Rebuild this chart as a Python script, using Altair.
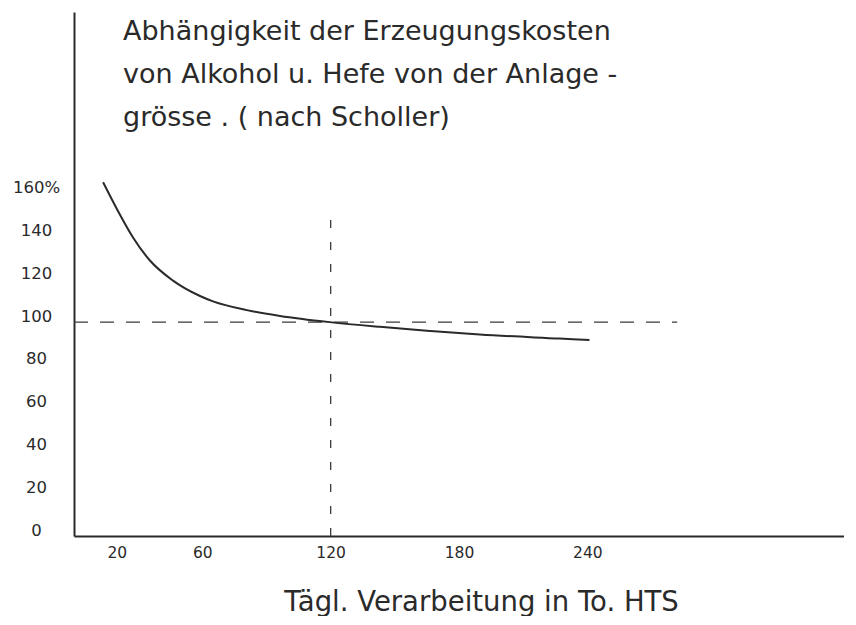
import altair as alt
import pandas as pd

# Curve: daily throughput (t HTS) vs. relative production cost (%)
size = [13.6, 20.1, 27.6, 35.5, 46.3, 58.9, 65.0, 80.8, 96.3, 119.6, 143.0, 166.4, 189.7, 227.0, 241.0]
cost = [165.4, 152.8, 139.6, 128.8, 119.4, 112.2, 109.7, 105.6, 102.9, 100.0, 97.8, 95.9, 94.2, 92.3, 91.6]

# Reference lines
ref_x = [120]          # vertical dash-dot line at 120 t
ref_x_top = [149]
ref_y = [100]          # horizontal dashed line at 100 %
ref_y_end = [282]

x_ticks = [20, 60, 120, 180, 240]
y_ticks = [0, 20, 40, 60, 80, 100, 120, 140, 160]

title_lines = [
    "Abhängigkeit der Erzeugungskosten",
    "von Alkohol u. Hefe von der Anlage -",
    "grösse . ( nach Scholler)",
]
x_title = "Tägl. Verarbeitung in To. HTS"

FONT = "DejaVu Sans"
INK = "#2a2a2a"

curve_df = pd.DataFrame({"size": size, "cost": cost})
vline_df = pd.DataFrame({"x": ref_x, "y0": [0], "y1": ref_x_top})
hline_df = pd.DataFrame({"y": ref_y, "x0": [0], "x1": ref_y_end})

xscale = alt.Scale(domain=[0, 360], nice=False, zero=True)
yscale = alt.Scale(domain=[0, 245], nice=False, zero=True)

curve = alt.Chart(curve_df).mark_line(
    color=INK, strokeWidth=2, interpolate="monotone"
).encode(
    x=alt.X("size:Q", scale=xscale, axis=alt.Axis(
        values=x_ticks, title=x_title, grid=False, ticks=False,
        labelFontSize=15.5, labelPadding=9, labelFont=FONT, labelColor=INK,
        domainColor=INK, domainWidth=2,
        titleFont=FONT, titleFontSize=27.5, titleFontWeight="normal", titleColor=INK,
        titleX=407, titleY=74, titleBaseline="alphabetic", titleAlign="center",
    )),
    y=alt.Y("cost:Q", scale=yscale, axis=alt.Axis(
        values=y_ticks, title=None, grid=False, ticks=False,
        labelFontSize=16.5, labelPadding=38, labelFont=FONT, labelColor=INK,
        labelAlign="center", labelOffset=-6,
        labelExpr="datum.value == 160 ? '160%' : datum.label",
        domainColor=INK, domainWidth=2,
    )),
)

vline = alt.Chart(vline_df).mark_rule(
    color="#3a3a3a", strokeWidth=1.3, strokeDash=[8, 14]
).encode(x=alt.X("x:Q", scale=xscale), y=alt.Y("y0:Q", scale=yscale), y2="y1:Q")

hline = alt.Chart(hline_df).mark_rule(
    color="#3a3a3a", strokeWidth=1.3, strokeDash=[14, 12]
).encode(y=alt.Y("y:Q", scale=yscale), x=alt.X("x0:Q", scale=xscale), x2="x1:Q")

chart = alt.layer(hline, vline, curve).properties(
    width=770,
    height=524,
    autosize=alt.AutoSizeParams(type="none"),
    padding={"left": 66, "top": 4, "right": 0, "bottom": 80},
    title=alt.Title(
        text=title_lines, anchor="start", frame="group", orient="top",
        font=FONT, fontSize=27, fontWeight="normal", color=INK,
        lineHeight=43, baseline="top", offset=0, dx=49, dy=120,
    ),
).configure(background="white").configure_view(stroke=None)

chart.save("out.html", embed_options={"renderer": "svg", "actions": False})
